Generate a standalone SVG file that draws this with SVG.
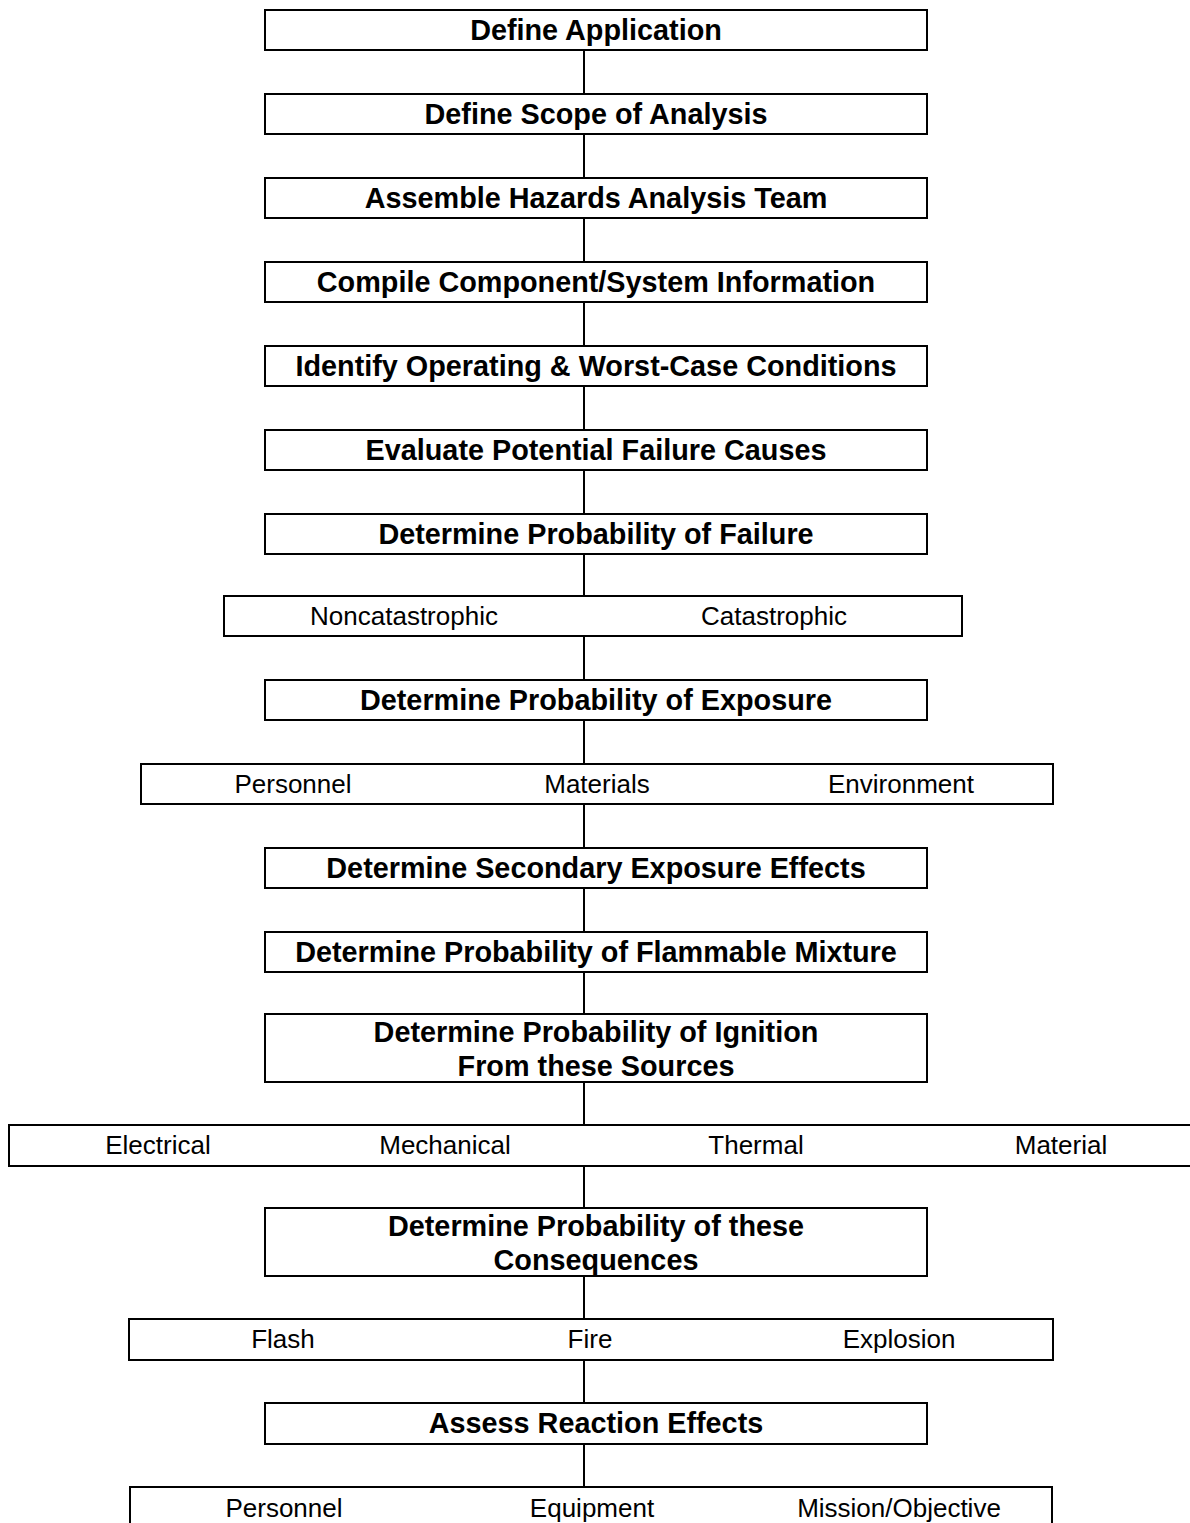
<svg xmlns="http://www.w3.org/2000/svg" width="1190" height="1523" viewBox="0 0 1190 1523">
<style>
.box{fill:#fff;stroke:#000;stroke-width:2}
.b{font-family:"Liberation Sans",Arial,sans-serif;font-weight:bold;font-size:28.8px;text-anchor:middle;fill:#000}
.n{font-family:"Liberation Sans",Arial,sans-serif;font-size:26px;text-anchor:middle;fill:#000}
.c{stroke:#000;stroke-width:2;fill:none}
</style>
<rect width="1190" height="1523" fill="#fff"/>
<g id="connectors">
<path class="c" d="M584 50V94M584 134V178M584 218V262M584 302V346M584 386V430M584 470V514M584 554V596M584 636V680M584 720V764M584 804V848M584 888V932M584 972V1014M584 1082V1125M584 1166V1208M584 1276V1319M584 1360V1403M584 1444V1487"/>
</g>
<g id="n1"><rect class="box" x="265" y="10" width="662" height="40"/><text class="b" x="596" y="40">Define Application</text></g>
<g id="n2"><rect class="box" x="265" y="94" width="662" height="40"/><text class="b" x="596" y="124">Define Scope of Analysis</text></g>
<g id="n3"><rect class="box" x="265" y="178" width="662" height="40"/><text class="b" x="596" y="208">Assemble Hazards Analysis Team</text></g>
<g id="n4"><rect class="box" x="265" y="262" width="662" height="40"/><text class="b" x="596" y="292">Compile Component/System Information</text></g>
<g id="n5"><rect class="box" x="265" y="346" width="662" height="40"/><text class="b" x="596" y="376">Identify Operating &amp; Worst-Case Conditions</text></g>
<g id="n6"><rect class="box" x="265" y="430" width="662" height="40"/><text class="b" x="596" y="460">Evaluate Potential Failure Causes</text></g>
<g id="n7"><rect class="box" x="265" y="514" width="662" height="40"/><text class="b" x="596" y="544">Determine Probability of Failure</text></g>
<g id="n8"><rect class="box" x="224" y="596" width="738" height="40"/><text class="n" x="404" y="625">Noncatastrophic</text><text class="n" x="774" y="625">Catastrophic</text></g>
<g id="n9"><rect class="box" x="265" y="680" width="662" height="40"/><text class="b" x="596" y="710">Determine Probability of Exposure</text></g>
<g id="n10"><rect class="box" x="141" y="764" width="912" height="40"/><text class="n" x="293" y="793">Personnel</text><text class="n" x="597" y="793">Materials</text><text class="n" x="901" y="793">Environment</text></g>
<g id="n11"><rect class="box" x="265" y="848" width="662" height="40"/><text class="b" x="596" y="878">Determine Secondary Exposure Effects</text></g>
<g id="n12"><rect class="box" x="265" y="932" width="662" height="40"/><text class="b" x="596" y="962">Determine Probability of Flammable Mixture</text></g>
<g id="n13"><rect class="box" x="265" y="1014" width="662" height="68"/><text class="b" x="596" y="1042">Determine Probability of Ignition</text><text class="b" x="596" y="1076">From these Sources</text></g>
<g id="n14"><rect class="box" x="9" y="1125" width="1190" height="41"/><text class="n" x="158" y="1154">Electrical</text><text class="n" x="445" y="1154">Mechanical</text><text class="n" x="756" y="1154">Thermal</text><text class="n" x="1061" y="1154">Material</text></g>
<g id="n15"><rect class="box" x="265" y="1208" width="662" height="68"/><text class="b" x="596" y="1236">Determine Probability of these</text><text class="b" x="596" y="1270">Consequences</text></g>
<g id="n16"><rect class="box" x="129" y="1319" width="924" height="41"/><text class="n" x="283" y="1348">Flash</text><text class="n" x="590" y="1348">Fire</text><text class="n" x="899" y="1348">Explosion</text></g>
<g id="n17"><rect class="box" x="265" y="1403" width="662" height="41"/><text class="b" x="596" y="1433">Assess Reaction Effects</text></g>
<g id="n18"><rect class="box" x="130" y="1487" width="922" height="45"/><text class="n" x="284" y="1517">Personnel</text><text class="n" x="592" y="1517">Equipment</text><text class="n" x="899" y="1517">Mission/Objective</text></g>
</svg>
